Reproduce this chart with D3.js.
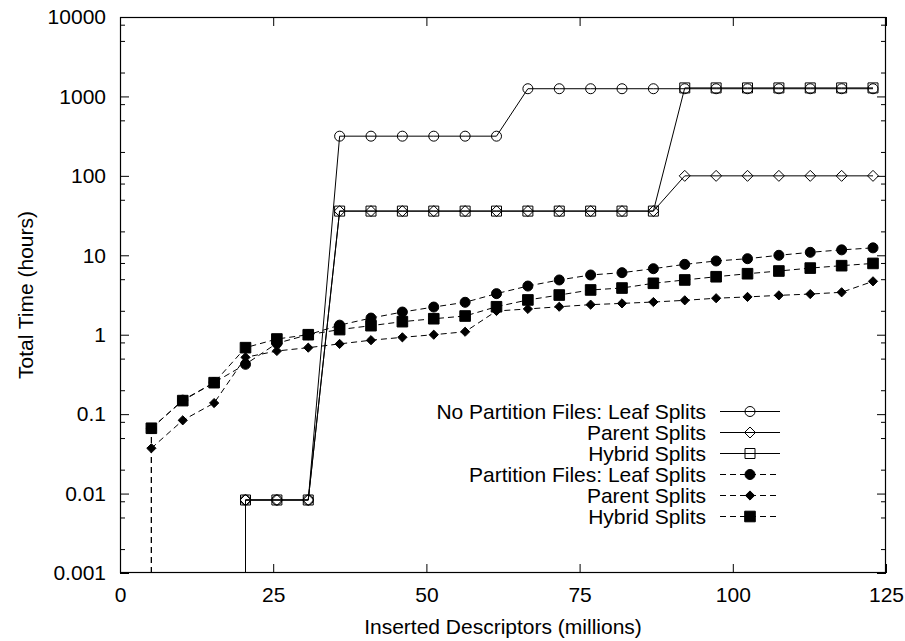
<!DOCTYPE html>
<html>
<head>
<meta charset="utf-8">
<script src="https://cdn.jsdelivr.net/npm/d3@7/dist/d3.min.js"></script>
<style>
  body { margin: 0; background: #fff; }
  svg { display: block; }
  text { font-family: "Liberation Sans", Arial, Helvetica, sans-serif; font-size: 21px; fill: #000; }
</style>
</head>
<body>
<svg id="chart" width="905" height="641"></svg>
<script>
// Inserted descriptors (millions) after each batch
const descriptors = [5.12, 10.24, 15.36, 20.48, 25.6, 30.72, 35.84, 40.96, 46.08, 51.2, 56.32, 61.44,
                     66.56, 71.68, 76.8, 81.92, 87.04, 92.16, 97.28, 102.4, 107.52, 112.64, 117.76, 122.88];

// Total time (hours) without partition files
const noPartLeaf   = [null, null, null, 0.0083, 0.0083, 0.0083, 316, 316, 316, 316, 316, 316,
                      1250, 1250, 1250, 1250, 1250, 1250, 1250, 1250, 1250, 1250, 1250, 1250];
const noPartParent = [null, null, null, 0.0083, 0.0083, 0.0083, 36, 36, 36, 36, 36, 36,
                      36, 36, 36, 36, 36, 100, 100, 100, 100, 100, 100, 100];
const noPartHybrid = [null, null, null, 0.0083, 0.0083, 0.0083, 36, 36, 36, 36, 36, 36,
                      36, 36, 36, 36, 36, 1280, 1280, 1280, 1280, 1280, 1280, 1280];

// Total time (hours) with partition files
const partLeaf   = [0.066, 0.15, 0.25, 0.424, 0.78, 1.0, 1.32, 1.62, 1.93, 2.23, 2.56, 3.29,
                    4.10, 4.89, 5.65, 6.04, 6.78, 7.69, 8.48, 9.06, 10.0, 10.9, 11.7, 12.4];
const partParent = [0.0372, 0.0836, 0.138, 0.519, 0.624, 0.687, 0.766, 0.853, 0.927, 1.0, 1.09, 1.99,
                    2.11, 2.25, 2.39, 2.48, 2.58, 2.71, 2.88, 2.99, 3.13, 3.25, 3.42, 4.7];
const partHybrid = [0.0664, 0.148, 0.249, 0.687, 0.883, 1.0, 1.16, 1.30, 1.46, 1.59, 1.72, 2.25,
                    2.74, 3.16, 3.66, 3.87, 4.44, 4.89, 5.37, 5.86, 6.34, 6.9, 7.4, 7.9];

const xTicks = [0, 25, 50, 75, 100, 125];
const yTicks = [0.001, 0.01, 0.1, 1, 10, 100, 1000, 10000];
const yTickLabels = ["0.001", "0.01", "0.1", "1", "10", "100", "1000", "10000"];
const yMinorSteps = [2, 5, 8];

const seriesLabels = ["No Partition Files: Leaf Splits", "Parent Splits", "Hybrid Splits",
                      "Partition Files: Leaf Splits", "Parent Splits", "Hybrid Splits"];
const seriesValues = [noPartLeaf, noPartParent, noPartHybrid, partLeaf, partParent, partHybrid];
const seriesShapes = ["circle", "diamond", "square", "circle", "diamond", "square"];
const seriesFilled = [false, false, false, true, true, true];

// ---- layout ----
const svg = d3.select("#chart");
const L = 120, R = 886, T = 17, B = 573;
const x = d3.scaleLinear().domain([0, 125]).range([L, R]);
const y = d3.scaleLog().domain([0.001, 10000]).range([B, T]);

const markerSize = { circle: 5, diamond: 5.5, square: 5 };
const filledSize = { circle: 5, diamond: 4.6, square: 5.3 };
function markerPath(shape, s) {
  if (shape === "circle") return `M${s},0A${s},${s} 0 1,1 ${-s},0A${s},${s} 0 1,1 ${s},0Z`;
  if (shape === "square") return `M${-s},${-s}h${2 * s}v${2 * s}h${-2 * s}Z`;
  return `M0,${-s}L${s},0L0,${s}L${-s},0Z`;
}

// ---- axes and ticks ----
const minorTicks = [];
yTicks.slice(0, -1).forEach(d => yMinorSteps.forEach(m => minorTicks.push(d * m)));

function styleAxis(g) {
  g.select(".domain").remove();
  g.selectAll(".tick line").attr("stroke", "#000").attr("stroke-width", 1);
  g.selectAll("text").attr("font-size", null).attr("font-family", null).attr("fill", "#000");
}

svg.append("g").attr("transform", `translate(0,${B})`)
  .call(d3.axisBottom(x).tickValues(xTicks).tickSizeInner(-9).tickSizeOuter(0).tickPadding(14).tickFormat(d3.format("d")))
  .call(styleAxis);
svg.append("g").attr("transform", `translate(0,${T})`)
  .call(d3.axisTop(x).tickValues(xTicks).tickSizeInner(-9).tickSizeOuter(0).tickFormat(""))
  .call(styleAxis);

svg.append("g").attr("transform", `translate(${L},0)`)
  .call(d3.axisLeft(y).tickValues(yTicks).tickSizeInner(-9).tickSizeOuter(0).tickPadding(14)
    .tickFormat((d, i) => yTickLabels[i]))
  .call(styleAxis);
svg.append("g").attr("transform", `translate(${L},0)`)
  .call(d3.axisLeft(y).tickValues(minorTicks).tickSizeInner(-5).tickSizeOuter(0).tickFormat(""))
  .call(styleAxis);
svg.append("g").attr("transform", `translate(${R},0)`)
  .call(d3.axisRight(y).tickValues(yTicks).tickSizeInner(-9).tickSizeOuter(0).tickFormat(""))
  .call(styleAxis);
svg.append("g").attr("transform", `translate(${R},0)`)
  .call(d3.axisRight(y).tickValues(minorTicks).tickSizeInner(-5).tickSizeOuter(0).tickFormat(""))
  .call(styleAxis);

// plot frame
svg.append("rect").attr("x", L + 0.5).attr("y", T + 0.5)
  .attr("width", R - L - 1).attr("height", B - T - 1)
  .attr("fill", "none").attr("stroke", "#000").attr("stroke-width", 1.2);

// axis titles
svg.append("text").attr("x", (L + R) / 2).attr("y", 634).attr("text-anchor", "middle")
  .text("Inserted Descriptors (millions)");
svg.append("text").attr("transform", `translate(26,${(T + B) / 2}) rotate(-90)`)
  .attr("text-anchor", "middle").attr("dy", "0.35em").text("Total Time (hours)");

// ---- series ----
const line = d3.line().defined(d => d.v != null).x(d => x(d.x)).y(d => y(d.v));
const plot = svg.append("g");

seriesValues.forEach((vals, i) => {
  const pts = descriptors.map((xv, j) => ({ x: xv, v: vals[j] }));
  const dashed = seriesFilled[i];
  const g = plot.append("g");
  const dash = dashed ? "6,4" : null;

  // first sample falls from the bottom of the axis
  const first = pts.find(p => p.v != null);
  g.append("line")
    .attr("x1", x(first.x)).attr("x2", x(first.x))
    .attr("y1", y.range()[0]).attr("y2", y(first.v))
    .attr("stroke", "#000").attr("stroke-width", 1).attr("stroke-dasharray", dash);

  g.append("path").datum(pts).attr("d", line)
    .attr("fill", "none").attr("stroke", "#000").attr("stroke-width", 1)
    .attr("stroke-dasharray", dash);

  const s = (seriesFilled[i] ? filledSize : markerSize)[seriesShapes[i]];
  g.selectAll("path.mk").data(pts.filter(p => p.v != null)).join("path")
    .attr("class", "mk")
    .attr("transform", d => `translate(${x(d.x)},${y(d.v)})`)
    .attr("d", markerPath(seriesShapes[i], s))
    .attr("fill", seriesFilled[i] ? "#000" : "none")
    .attr("stroke", "#000").attr("stroke-width", 1);
});

// ---- legend ----
const legend = svg.append("g");
const legTextX = 706, legLineX1 = 720, legLineX2 = 780, legY0 = 411.5, legDy = 21;
seriesLabels.forEach((label, i) => {
  const yy = legY0 + i * legDy;
  legend.append("text").attr("x", legTextX).attr("y", yy).attr("dy", "0.35em")
    .attr("text-anchor", "end").text(label);
  legend.append("line").attr("x1", legLineX1).attr("x2", legLineX2).attr("y1", yy).attr("y2", yy)
    .attr("stroke", "#000").attr("stroke-width", 1)
    .attr("stroke-dasharray", seriesFilled[i] ? "6,4" : null);
  const s = (seriesFilled[i] ? filledSize : markerSize)[seriesShapes[i]];
  legend.append("path").attr("transform", `translate(${(legLineX1 + legLineX2) / 2},${yy})`)
    .attr("d", markerPath(seriesShapes[i], s))
    .attr("fill", seriesFilled[i] ? "#000" : "none")
    .attr("stroke", "#000").attr("stroke-width", 1);
});
</script>
</body>
</html>
